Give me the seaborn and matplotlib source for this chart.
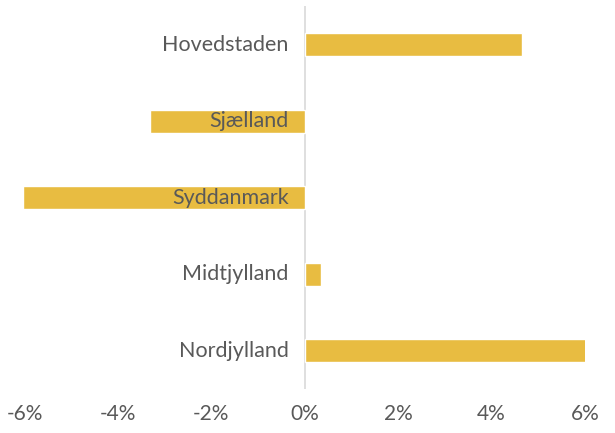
import pandas as pd
import matplotlib.pyplot as plt
import seaborn as sns

# Data (percent change by region)
regions = ["Hovedstaden", "Sjælland", "Syddanmark", "Midtjylland", "Nordjylland"]
change = [4.65, -3.32, -6.03, 0.35, 6.05]
xticks = [-6, -4, -2, 0, 2, 4, 6]

df = pd.DataFrame({"region": regions, "change": change})

sns.set_style("white")
plt.rcParams["font.family"] = ["Lato", "DejaVu Sans"]
text_color = "#595959"

fig = plt.figure(figsize=(6.15, 4.33), dpi=100)
ax = fig.add_axes([0.0398, 0.1016, 0.9112, 0.8834])

sns.barplot(data=df, y="region", x="change", orient="h", color="#E8BC41",
            saturation=1, width=0.3, ax=ax)

ax.axvline(0, color="#D9D9D9", lw=1.2, zorder=0)

# Category labels sit just left of the zero line
for i, name in enumerate(regions):
    ax.text(-0.34, i, name, ha="right", va="center", fontsize=15.5,
            color=text_color, zorder=3)

ax.set_xlim(-6, 6)
ax.set_ylim(len(regions) - 0.5, -0.5)
ax.set_xticks(xticks)
ax.set_xticklabels([f"{t}%" for t in xticks], fontsize=15, color=text_color)
ax.tick_params(axis="x", length=0, pad=11)
ax.set_yticks([])
ax.set_xlabel("")
ax.set_ylabel("")
sns.despine(ax=ax, left=True, bottom=True)

fig.savefig("out.png", dpi=100)
plt.close(fig)
